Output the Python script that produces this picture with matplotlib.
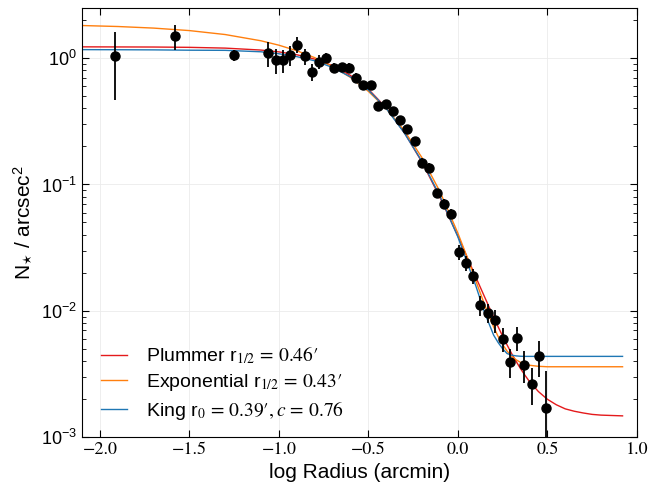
import numpy as np
import matplotlib
matplotlib.use("Agg")
import matplotlib.pyplot as plt

plt.rcParams['font.family'] = ['Liberation Sans', 'DejaVu Sans']
plt.rcParams['mathtext.fontset'] = 'stix'

# data points (log radius, density, error)
log_r = [-1.916, -1.581, -1.251, -1.060, -1.018, -0.979, -0.939, -0.896, -0.855,
         -0.814, -0.775, -0.734, -0.693, -0.650, -0.609, -0.570, -0.529, -0.488,
         -0.445, -0.404, -0.365, -0.324, -0.283, -0.240, -0.199, -0.160, -0.119,
         -0.078, -0.037, 0.004, 0.045, 0.086, 0.125, 0.166, 0.209, 0.250, 0.291,
         0.328, 0.371, 0.412, 0.453, 0.492]
dens = [1.04, 1.49, 1.056, 1.10, 0.964, 0.964, 1.056, 1.284, 1.037,
        0.779, 0.935, 1.01, 0.844, 0.853, 0.844, 0.703, 0.611, 0.611,
        0.417, 0.438, 0.383, 0.323, 0.273, 0.221, 0.149, 0.136, 0.085,
        0.070, 0.0584, 0.0291, 0.0239, 0.0190, 0.01103, 0.00962, 0.00837, 0.00599, 0.00395,
        0.00611, 0.00371, 0.00265, 0.00441, 0.00171]
dens_err = [0.57, 0.33, 0.11, 0.25, 0.21, 0.20, 0.19, 0.18, 0.15,
            0.12, 0.12, 0.10, 0.08, 0.07, 0.07, 0.055, 0.05, 0.045,
            0.035, 0.032, 0.028, 0.024, 0.02, 0.016, 0.012, 0.011, 0.0075,
            0.0065, 0.0055, 0.004, 0.0032, 0.0026, 0.002, 0.0016, 0.0017, 0.00125, 0.001,
            0.0013, 0.00105, 0.00087, 0.0014, 0.00164]

# model curves
curve_x = [-2.1, -1.9, -1.7, -1.5, -1.3, -1.1, -1.0, -0.9, -0.8, -0.7, -0.6, -0.5,
           -0.4, -0.3, -0.2, -0.1, 0.0, 0.05, 0.1, 0.15, 0.2, 0.225, 0.25, 0.275,
           0.3, 0.325, 0.35, 0.375, 0.4, 0.45, 0.5, 0.55, 0.6, 0.65, 0.7, 0.75,
           0.8, 0.92]
plummer = [1.231, 1.229, 1.227, 1.220, 1.203, 1.161, 1.123, 1.066, 0.984, 0.873, 0.731, 0.569,
           0.404, 0.259, 0.150, 0.0790, 0.0390, 0.0269, 0.0185, 0.0128, 0.00889, 0.00746, 0.00630, 0.00536,
           0.00459, 0.00398, 0.00348, 0.00308, 0.00275, 0.00229, 0.00199, 0.00180, 0.00167, 0.00160, 0.00155, 0.00151,
           0.00149, 0.00147]
exponential = [1.816, 1.784, 1.733, 1.656, 1.541, 1.375, 1.269, 1.147, 1.011, 0.861, 0.705, 0.547,
               0.399, 0.268, 0.1626, 0.0877, 0.0412, 0.0270, 0.0173, 0.0111, 0.00743, 0.00625, 0.00540, 0.00479,
               0.00437, 0.00409, 0.00390, 0.00378, 0.00370, 0.00363, 0.00360, 0.00360, 0.00360, 0.00360, 0.00360, 0.00360,
               0.00360, 0.00360]
king = [1.17, 1.168, 1.165, 1.158, 1.155, 1.125, 1.085, 1.03, 0.955, 0.845, 0.712, 0.56,
        0.40, 0.257, 0.152, 0.081, 0.0385, 0.0245, 0.0158, 0.0096, 0.0064, 0.0056, 0.0050, 0.00458,
        0.00445, 0.00439, 0.00436, 0.00435, 0.00435, 0.00435, 0.00435, 0.00435, 0.00435, 0.00435, 0.00435, 0.00435,
        0.00435, 0.00435]

labels = ["Plummer r$_{1/2}\\,=\\,0.46\u2032$",
          "Exponential r$_{1/2}\\,=\\,0.43\u2032$",
          "King r$_{0}\\,=\\,0.39\u2032, c\\,=\\,0.76$"]
colors = ["#e41a1c", "#ff7f0e", "#1f77b4"]
xtick_vals = [-2.0, -1.5, -1.0, -0.5, 0.0, 0.5, 1.0]

fig = plt.figure(figsize=(6.49, 4.91), dpi=100)
ax = fig.add_axes([0.1263, 0.110, 0.855, 0.8737])

for ys, lab, col in zip([plummer, exponential, king], labels, colors):
    ax.plot(curve_x, ys, color=col, lw=1.0, label=lab)

ax.errorbar(log_r, dens, yerr=dens_err, fmt='o', color='black', ms=6.5,
            elinewidth=1.3, capsize=0, zorder=5)

ax.set_yscale('log')
ax.set_xlim(-2.1, 1.0)
ax.set_ylim(1e-3, 2.5)
ax.set_xticks(xtick_vals)
ax.set_xticklabels(["\u2212%.1f" % abs(v) if v < 0 else "%.1f" % v for v in xtick_vals],
                   fontfamily='STIXGeneral')
ax.grid(True, which='major', color='#ebebeb', lw=0.6)
ax.tick_params(which='both', direction='in', top=True, right=True, labelsize=13)
ax.tick_params(which='major', length=5)
ax.tick_params(which='minor', length=3)

ax.set_xlabel("log Radius (arcmin)", fontsize=15)
ax.set_ylabel(r"N$_{\star}$ / arcsec$^{\mathregular{2}}$", fontsize=15)

ax.legend(loc='lower left', frameon=False, fontsize=14, handlelength=1.3,
          handletextpad=1.0, borderaxespad=0.6, labelspacing=0.3,
          bbox_to_anchor=(0.0, -0.01))

fig.savefig("out.png", dpi=100)
